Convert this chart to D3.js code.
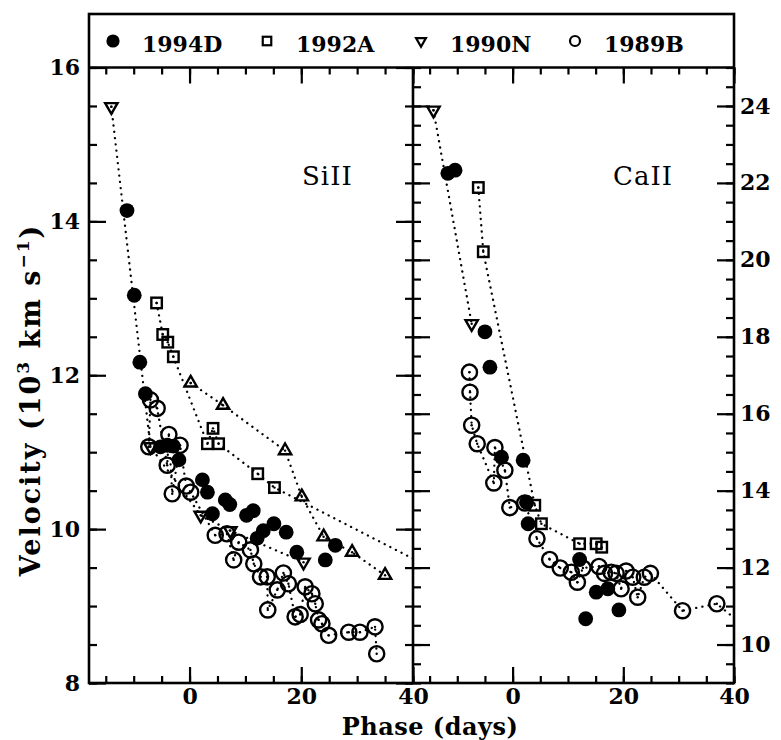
<!DOCTYPE html>
<meta charset="utf-8">
<style>
body { margin: 0; background: #fff; }
svg { display: block; }
.tick line { stroke: #000; stroke-width: 2.2; }
.tick text { font-family: "DejaVu Serif", serif; font-size: 22px; font-weight: bold; fill: #000; }
.frame { fill: none; stroke: #000; stroke-width: 2.6; }
.trail { fill: none; stroke: #000; stroke-width: 2.3; stroke-dasharray: 0.1 6.2; stroke-linecap: round; }
.lbl { font-family: "DejaVu Serif", serif; fill: #000; }
</style>
<svg width="781" height="740"></svg>
<script src="https://d3js.org/d3.v7.min.js"></script>
<script>

// ---- data: [phase (days), velocity (10^3 km/s)] ----
var si1994D = [[-11.2,14.14],[-9.9,13.04],[-8.9,12.17],[-7.9,11.76],[-5.2,11.07],[-4.0,11.09],[-2.9,11.08],
  [-1.9,10.90],[2.3,10.64],[3.2,10.48],[4.1,10.20],[6.4,10.38],[7.2,10.32],[10.2,10.18],[11.4,10.24],
  [12.1,9.88],[13.2,9.98],[15.1,10.07],[17.3,9.96],[19.2,9.70],[24.3,9.60],[26.1,9.79]];
var si1992A = [[-5.9,12.94],[-4.8,12.53],[-3.9,12.43],[-2.9,12.24],[3.2,11.11],[4.2,11.31],[5.2,11.11],
  [12.2,10.72],[15.2,10.54],[45,9.43]];
var si1990N = [[-14.0,15.49],[-7.0,11.07],[2.0,10.18],[7.3,9.98],[20.4,9.57]];
var si1990Nb = [[0.2,11.90],[6.0,11.61],[17.1,11.02],[20.1,10.42],[24.0,9.90],[29.1,9.70],[35.0,9.40]];
var si1989B = [[-7.3,11.07],[-7.0,11.68],[-5.8,11.57],[-4.0,10.83],[-3.7,11.23],[-3.1,10.46],[-1.7,11.09],
  [-0.6,10.56],[0.2,10.48],[4.6,9.92],[6.7,9.94],[7.9,9.60],[8.8,9.83],[10.9,9.73],[11.5,9.55],
  [12.7,9.38],[13.9,9.38],[14.0,8.95],[15.7,9.21],[16.8,9.43],[17.7,9.29],[18.9,8.86],[19.8,8.89],
  [20.7,9.25],[21.9,9.16],[22.5,9.03],[23.1,8.82],[23.7,8.77],[24.9,8.62],[28.5,8.66],[30.5,8.66],
  [33.2,8.73],[33.5,8.38]];

var ca1994D = [[-11.7,22.25],[-10.4,22.33],[-5.0,18.13],[-4.1,17.21],[-2.0,14.87],[1.9,14.79],[2.5,13.70],
  [2.8,13.14],[12.1,12.21],[13.2,10.67],[15.1,11.36],[17.2,11.45],[19.2,10.90]];
var ca1992A = [[-6.2,21.88],[-5.3,20.21],[4.0,13.62],[5.2,13.14],[12.1,12.62],[15.1,12.62],[16.1,12.53]];
var ca1990N = [[-14.3,23.89],[-7.4,18.34]];
var ca1989B = [[-7.8,17.08],[-7.7,16.56],[-7.4,15.70],[-6.4,15.22],[-3.4,14.20],[-3.2,15.12],[-1.4,14.53],
  [-0.5,13.56],[2.2,13.68],[4.4,12.75],[6.7,12.21],[8.6,11.99],[10.6,11.88],[11.7,11.62],[12.7,11.99],
  [15.6,12.03],[16.6,11.85],[17.8,11.88],[18.7,11.85],[19.6,11.45],[20.5,11.91],[21.7,11.75],[22.6,11.23],
  [23.8,11.75],[24.9,11.85],[30.7,10.88],[36.9,11.06],[45,10.1]];

var legendNames = ["1994D", "1992A", "1990N", "1989B"];
var legendSymbols = ["filled", "square", "down", "circle"];

var phaseMajor = [0, 20, 40];
var phaseMinor = d3.range(-15, 41, 5);
var siMajor = [8, 10, 12, 14, 16];
var caMajor = [10, 12, 14, 16, 18, 20, 22, 24];

// ---- layout ----
var svg = d3.select("svg");
var plotTop = 67.5, plotBottom = 683, boxTop = 14;
var xLeft = 89, xMid = 413, xRight = 734;

var panels = [
  { id: "si", label: "SiII", labelX: 302,
    x: d3.scaleLinear().domain([-18, 40]).range([xLeft, xMid]),
    y: d3.scaleLinear().domain([8, 16]).range([plotBottom, plotTop]),
    series: [
      { data: si1989B, sym: "circle", line: true },
      { data: si1990Nb, sym: "up", line: true },
      { data: si1990N, sym: "down", line: true },
      { data: si1992A, sym: "square", line: true },
      { data: si1994D, sym: "filled", line: false }
    ] },
  { id: "ca", label: "CaII", labelX: 613,
    x: d3.scaleLinear().domain([-18, 40]).range([xMid, xRight]),
    y: d3.scaleLinear().domain([9, 25]).range([plotBottom, plotTop]),
    series: [
      { data: ca1989B, sym: "circle", line: true },
      { data: ca1990N, sym: "down", line: true },
      { data: ca1992A, sym: "square", line: true },
      { data: ca1994D, sym: "filled", line: false }
    ] }
];

function marker(g, sym, big) {
  var lw = big ? 2.4 : 2.2;
  if (sym == "filled") {
    g.append("circle").attr("r", big ? 7.4 : 6.6).attr("fill", "#000");
    return;
  }
  if (sym == "circle") {
    g.append("circle").attr("r", big ? 7.6 : 5).attr("fill", "none").attr("stroke", "#000").attr("stroke-width", lw);
  } else if (sym == "square") {
    var s = big ? 10.5 : 8.5;
    g.append("rect").attr("x", -s / 2).attr("y", -s / 2).attr("width", s).attr("height", s)
      .attr("fill", "none").attr("stroke", "#000").attr("stroke-width", lw);
  } else {
    var area = big ? 66 : 42;
    g.append("path")
      .attr("d", d3.symbol().type(d3.symbolTriangle).size(area)())
      .attr("transform", sym == "down" ? "rotate(180)" : null)
      .attr("fill", "none").attr("stroke", "#000").attr("stroke-width", lw)
      .attr("stroke-linejoin", "miter");
  }
  if (big) g.append("circle").attr("r", 1.2).attr("fill", "#000");
}

panels.forEach(function(p) {
  var x = p.x, y = p.y;
  var x0 = x.range()[0], x1 = x.range()[1];

  svg.append("clipPath").attr("id", "clip-" + p.id)
    .append("rect").attr("x", x0).attr("y", plotTop).attr("width", x1 - x0).attr("height", plotBottom - plotTop);

  var g = svg.append("g").attr("clip-path", "url(#clip-" + p.id + ")");
  var line = d3.line().x(function(d) { return x(d[0]); }).y(function(d) { return y(d[1]); });

  p.series.forEach(function(s) {
    if (s.line) g.append("path").attr("class", "trail").attr("d", line(s.data));
  });
  p.series.forEach(function(s) {
    g.selectAll(null).data(s.data).enter().append("g")
      .attr("transform", function(d) { return "translate(" + x(d[0]) + "," + y(d[1]) + ")"; })
      .each(function() { marker(d3.select(this), s.sym, true); });
  });

  // phase axes, ticks pointing inward
  svg.append("g").attr("transform", "translate(0," + plotBottom + ")")
    .call(d3.axisBottom(x).tickValues(phaseMinor).tickSize(-7).tickFormat(""));
  svg.append("g").attr("transform", "translate(0," + plotBottom + ")")
    .call(d3.axisBottom(x).tickValues(phaseMajor).tickSize(-16).tickPadding(5));
  svg.append("g").attr("transform", "translate(0," + plotTop + ")")
    .call(d3.axisTop(x).tickValues(phaseMinor).tickSize(-7).tickFormat(""));
  svg.append("g").attr("transform", "translate(0," + plotTop + ")")
    .call(d3.axisTop(x).tickValues(phaseMajor).tickSize(-16).tickFormat(""));

  var yd = y.domain();
  var minor = d3.range(yd[0], yd[1] + 0.01, 0.5);
  var major = p.id == "si" ? siMajor : caMajor;

  svg.append("g").attr("transform", "translate(" + x0 + ",0)")
    .call(d3.axisLeft(y).tickValues(minor).tickSize(-8).tickFormat(""));
  svg.append("g").attr("transform", "translate(" + x0 + ",0)")
    .call(d3.axisLeft(y).tickValues(major).tickSize(-17).tickPadding(9)
      .tickFormat(p.id == "si" ? d3.format("d") : ""));
  svg.append("g").attr("transform", "translate(" + x1 + ",0)")
    .call(d3.axisRight(y).tickValues(minor).tickSize(-8).tickFormat(""));
  svg.append("g").attr("transform", "translate(" + x1 + ",0)")
    .call(d3.axisRight(y).tickValues(major).tickSize(-17).tickPadding(6)
      .tickFormat(p.id == "ca" ? d3.format("d") : ""));

  svg.append("text").attr("class", "lbl")
    .attr("x", p.labelX).attr("y", 185)
    .attr("font-size", 26).attr("letter-spacing", 1)
    .text(p.label);
});

svg.selectAll(".domain").remove();

// frames
svg.append("rect").attr("class", "frame")
  .attr("x", xLeft).attr("y", boxTop).attr("width", xRight - xLeft).attr("height", plotBottom - boxTop);
svg.append("line").attr("class", "frame")
  .attr("x1", xLeft).attr("x2", xRight).attr("y1", plotTop).attr("y2", plotTop);
svg.append("line").attr("class", "frame")
  .attr("x1", xMid).attr("x2", xMid).attr("y1", plotTop).attr("y2", plotBottom);

// legend
var leg = svg.append("g").selectAll("g").data(legendNames).enter().append("g")
  .attr("transform", function(d, i) { return "translate(" + (113 + i * 154) + ",41)"; });
leg.each(function(d, i) { marker(d3.select(this), legendSymbols[i], false); });
leg.append("text").attr("class", "lbl")
  .attr("x", 29).attr("y", 11)
  .attr("font-size", 22).attr("font-weight", "bold")
  .text(function(d) { return d; });

// axis titles
svg.append("text").attr("class", "lbl")
  .attr("x", 430).attr("y", 735)
  .attr("text-anchor", "middle")
  .attr("font-size", 24).attr("font-weight", "bold").attr("letter-spacing", 0.5)
  .text("Phase (days)");

var yt = svg.append("text").attr("class", "lbl")
  .attr("transform", "translate(40,400) rotate(-90)")
  .attr("text-anchor", "middle")
  .attr("font-size", 27).attr("font-weight", "bold").attr("letter-spacing", 2);
yt.append("tspan").text("Velocity (10");
yt.append("tspan").attr("font-size", 17).attr("dy", -11).text("3");
yt.append("tspan").attr("dy", 11).text(" km s");
yt.append("tspan").attr("font-size", 17).attr("dy", -11).text("\u22121");
yt.append("tspan").attr("dy", 11).text(")");

</script>
